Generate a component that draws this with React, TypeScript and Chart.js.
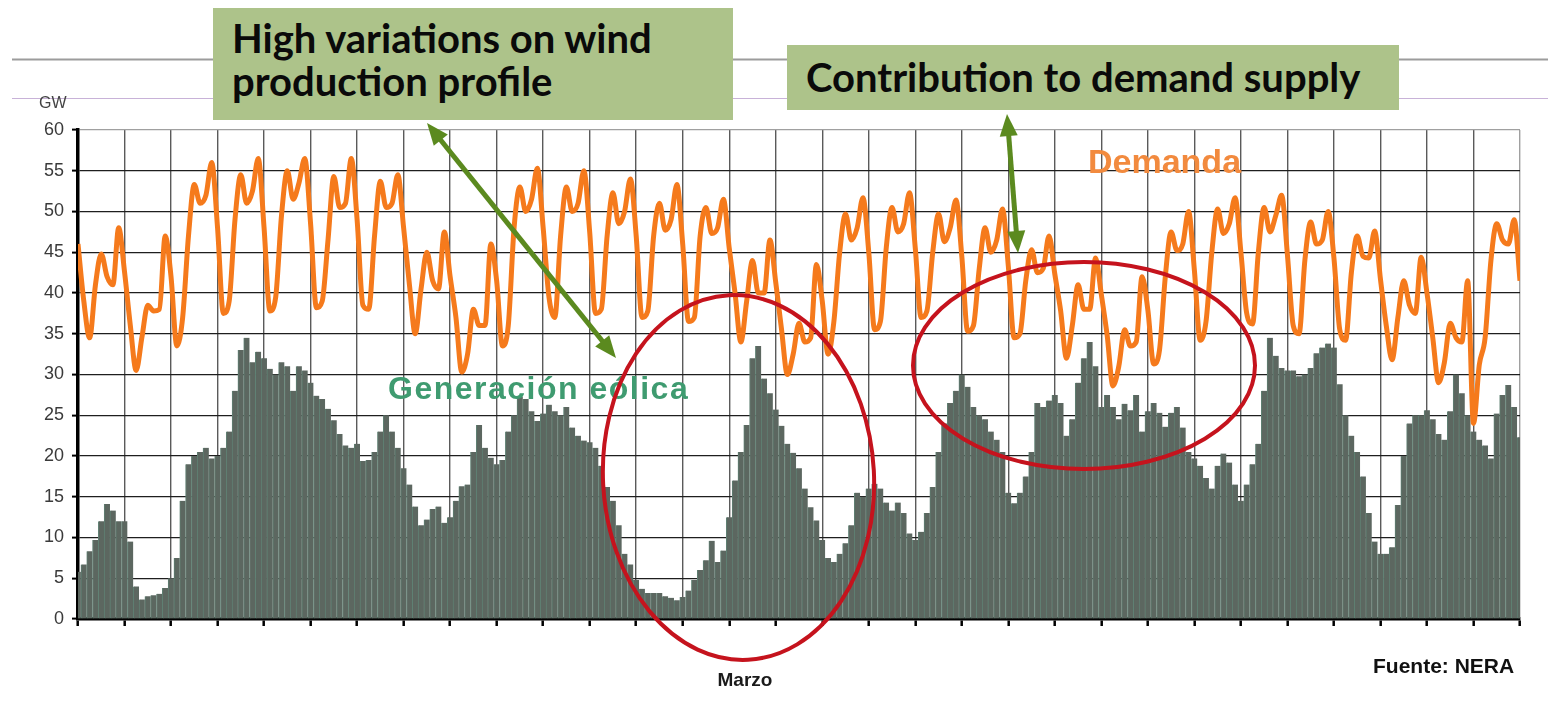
import React, { useEffect, useRef } from "react";
import { Chart, registerables } from "chart.js";

Chart.register(...registerables);

// ---- data (sampled every 3 hours through March, 31 days) ----
const STEP_HOURS = 3;
const DAYS = 31;

// Demand (GW), 8 samples per day + closing value
const demandGW = [
  46, 39, 34.5, 41, 44.8, 42, 41, 48,
  42.6, 36, 30.5, 34.6, 38.5, 37.8, 38, 47,
  42, 33.5, 37, 47, 53.3, 51, 52, 56,
  48, 37.5, 39, 49, 54.5, 51, 52.5, 56.5,
  48, 37.8, 39.5, 49.5, 55, 51.5, 53.5, 56.5,
  48.5, 38.2, 39, 46.5, 54.3, 50.5, 51, 56.5,
  49, 38.5, 38, 47, 53.7, 50.5, 51, 54.5,
  48, 41, 35, 40.5, 45, 41.5, 40.5, 47.5,
  42, 37, 30.3, 32.5, 38, 36, 36, 46,
  41.5, 33.5, 36, 48, 53, 50, 51.5, 55.3,
  48, 39.5, 37, 47, 53, 50, 51, 55,
  47.5, 37.5, 38, 47, 52.3, 48.5, 50, 54,
  47, 37, 37.8, 47, 51, 47.7, 49, 53.3,
  46, 36.5, 37, 47, 50.5, 47.3, 48, 51.5,
  45.5, 40, 34, 39, 44, 40, 40, 46.5,
  41.3, 35.5, 30, 32.5, 36.3, 34, 34.5, 43.5,
  39, 32.5, 36.5, 45, 49.7, 46.5, 48, 51.7,
  45, 35.5, 36.5, 45.5, 50.5, 47.5, 48.5, 52.3,
  45.5, 37, 37.8, 45, 49.7, 46.3, 48, 51.4,
  44.5, 35.3, 36, 43, 48, 45, 46.5, 50.3,
  43.3, 34.5, 35, 41.5, 45.3, 42.5, 43, 47,
  42.3, 37.8, 32, 36, 41, 38, 38, 44.3,
  39.8, 34.8, 28.6, 31, 35.5, 33.5, 34, 42,
  37.9, 31.3, 33, 42, 47.5, 45.2, 46, 50,
  42.8, 34.2, 36.5, 45, 50.3, 47.3, 48.5, 51.7,
  45, 37.5, 36.2, 45, 50.5, 47.5, 49.5, 52,
  44.7, 36, 35, 44, 48.7, 46, 46.5, 50,
  44.3, 35.5, 34.2, 42.5, 47, 44.5, 44.3, 47.6,
  41.7, 36, 31.8, 37, 41.5, 38.5, 37.5, 44.4,
  40, 34.5, 29, 31.5, 36.3, 34.5, 34, 41.5,
  24, 31.2, 34.5, 44, 48.5, 46.5, 46, 49,
  41.5,
];

// Wind generation (GW), same sampling
const windGW = [
  5.8, 6.7, 8.3, 9.7, 12, 14.1, 13.3, 12,
  12, 9.5, 4, 2.4, 2.8, 2.9, 3.1, 3.8,
  5, 7.5, 14.5, 19, 20, 20.5, 21, 19.7,
  20, 21, 23, 28, 33, 34.5, 31.5, 32.8,
  32, 30.7, 30, 31.5, 31, 28, 31, 30.5,
  29, 27.4, 27, 25.8, 24.4, 22.7, 21.3, 21,
  21.5, 19.4, 19.5, 20.5, 23, 25, 23, 21,
  18.5, 16.5, 13.8, 11.5, 12.2, 13.5, 13.8, 11.8,
  12.5, 14.5, 16.3, 16.5, 20.5, 23.8, 21, 19.8,
  19, 19.5, 23, 25, 27.3, 27, 25.5, 24.3,
  25.2, 26.3, 25.5, 25, 26, 23.5, 22.5, 21.9,
  21.7, 21, 18.8, 16.2, 14.5, 11.5, 8, 6.7,
  4.8, 3.7, 3.2, 3.2, 3.2, 2.8, 2.6, 2.3,
  2.7, 3.5, 4.8, 6, 7.2, 9.6, 7, 8.4,
  12.5, 17, 20.5, 23.8, 32, 33.5, 29.5, 27.7,
  25.7, 23.7, 21.5, 20.4, 18.5, 16, 13.7, 12.1,
  9.7, 7.5, 7, 8, 9.3, 11.5, 15.5, 15,
  16, 16.6, 16, 14.3, 13.3, 14.3, 13, 10.5,
  9.7, 10.7, 13, 16.2, 20.5, 24, 26.5, 28,
  30, 28.5, 26, 25, 24.5, 23, 22, 20.5,
  15.5, 14.2, 15.5, 17.5, 20.5, 26.5, 26, 26.8,
  27.5, 26.5, 22.5, 24.5, 29, 32, 34, 31,
  26, 27.5, 26, 24.5, 26.4, 25.6, 27.5, 23,
  25.5, 26.5, 25.3, 23.6, 25.3, 26, 23.5, 20.5,
  19.7, 18.8, 17.3, 16, 18.8, 20.3, 19.2, 16.5,
  14.5, 16.5, 19, 21.5, 28, 34.5, 32.3, 30.8,
  30.5, 30.5, 29.8, 30, 30.8, 32.6, 33.3, 33.8,
  33.3, 28.8, 25, 22.5, 20.5, 17.5, 13, 9.5,
  8, 8, 8.8, 14, 20, 24, 25, 25,
  25.6, 24.5, 22.7, 22, 25.5, 30, 27.7, 25,
  23, 22, 21.3, 19.7, 25.2, 27.5, 28.7, 26,
  22.3,
];

const yMin = 0;
const yMax = 60;
const yStep = 5;

const yUnit = "GW";
const xTitle = "Marzo";
const demandLabel = "Demanda";
const windLabel = "Generación eólica";
const sourceNote = "Fuente: NERA";
const noteVariation = ["High variations on wind", "production profile"];
const noteContribution = "Contribution to demand supply";

function arrowPoly(tx: number, ty: number, fx: number, fy: number, len: number, half: number) {
  const dx = tx - fx;
  const dy = ty - fy;
  const d = Math.hypot(dx, dy);
  const ux = dx / d;
  const uy = dy / d;
  const bx = tx - ux * len;
  const by = ty - uy * len;
  return `${tx},${ty} ${bx - uy * half},${by + ux * half} ${bx + uy * half},${by - ux * half}`;
}

function DoubleArrow({ x1, y1, x2, y2, color }: { x1: number; y1: number; x2: number; y2: number; color: string }) {
  const d = Math.hypot(x2 - x1, y2 - y1);
  const ux = (x2 - x1) / d;
  const uy = (y2 - y1) / d;
  const len = 22;
  return (
    <g>
      <line
        x1={x1 + ux * len * 0.8}
        y1={y1 + uy * len * 0.8}
        x2={x2 - ux * len * 0.8}
        y2={y2 - uy * len * 0.8}
        stroke={color}
        strokeWidth={5}
      />
      <polygon points={arrowPoly(x1, y1, x2, y2, len, 9)} fill={color} />
      <polygon points={arrowPoly(x2, y2, x1, y1, len, 9)} fill={color} />
    </g>
  );
}

export default function App() {
  const canvasRef = useRef<HTMLCanvasElement>(null);

  useEffect(() => {
    const canvas = canvasRef.current;
    if (!canvas) return;
    const chart = new Chart(canvas, {
      type: "bar",
      data: {
        datasets: [
          {
            type: "line",
            label: demandLabel,
            data: demandGW.map((v, i) => ({ x: i * STEP_HOURS, y: v })),
            borderColor: "#f57a1c",
            borderWidth: 5,
            pointRadius: 0,
            cubicInterpolationMode: "monotone",
            order: 0,
          } as any,
          {
            type: "bar",
            label: windLabel,
            data: windGW.map((v, i) => ({ x: i * STEP_HOURS, y: v })),
            backgroundColor: "#5c6760",
            borderColor: "#5f8073",
            borderWidth: { left: 1, top: 0, right: 0, bottom: 0 },
            borderSkipped: false,
            barPercentage: 1,
            categoryPercentage: 1,
            order: 1,
          } as any,
        ],
      },
      options: {
        animation: false,
        responsive: false,
        maintainAspectRatio: false,
        layout: { padding: { left: 0, right: 28, top: 130, bottom: 0 } },
        plugins: {
          legend: { display: false },
          tooltip: { enabled: false },
        },
        scales: {
          x: {
            type: "linear",
            min: 0,
            max: DAYS * 24,
            offset: false,
            ticks: { display: false, stepSize: 24, autoSkip: false, maxTicksLimit: 100 },
            grid: {
              color: (c: any) => (c.tick && c.tick.value === DAYS * 24 ? "#a0a0a0" : "#5a5a5a"),
              lineWidth: 1.4,
              tickLength: 7,
              tickColor: "#000",
              tickWidth: 2.5,
              offset: false,
            },
            border: { color: "#000", width: 3.5 },
            afterFit: (s: any) => {
              s.height = 89;
            },
          } as any,
          y: {
            min: yMin,
            max: yMax,
            ticks: {
              stepSize: yStep,
              font: { family: "'Liberation Sans', Arial, sans-serif", size: 18 },
              color: "#3a3a3a",
              padding: 8,
            },
            grid: {
              color: (c: any) => (c.tick && c.tick.value === yMax ? "#a0a0a0" : "#1e1e1e"),
              lineWidth: 1.2,
              tickLength: 6,
              tickColor: "#000",
              tickWidth: 2,
            },
            border: { color: "#000", width: 3.5 },
            afterFit: (s: any) => {
              s.width = 78;
            },
          } as any,
        },
      },
    });
    return () => chart.destroy();
  }, []);

  const boxFont = "Lato, 'Open Sans', sans-serif";
  const arial = "'Liberation Sans', Arial, sans-serif";

  return (
    <div
      style={{
        position: "absolute",
        left: 0,
        top: 0,
        width: 1548,
        height: 708,
        background: "#fff",
        overflow: "hidden",
      }}
    >
      <svg width={1548} height={708} style={{ position: "absolute", left: 0, top: 0 }}>
        <line x1={12} y1={59.5} x2={1548} y2={59.5} stroke="#9c9c9c" strokeWidth={2} />
        <line x1={12} y1={98.5} x2={1548} y2={98.5} stroke="#c8b2d8" strokeWidth={1} />
      </svg>
      <canvas
        ref={canvasRef}
        width={1548}
        height={708}
        style={{ position: "absolute", left: 0, top: 0, width: 1548, height: 708 }}
      />
      <div
        style={{
          position: "absolute",
          left: 39,
          top: 95,
          fontFamily: arial,
          fontSize: 16,
          lineHeight: "16px",
          color: "#444",
        }}
      >
        {yUnit}
      </div>
      <div
        style={{
          position: "absolute",
          left: 213,
          top: 8,
          width: 520,
          height: 112,
          background: "#adc38a",
          boxSizing: "border-box",
          paddingLeft: 19,
          paddingTop: 9,
          fontFamily: boxFont,
          fontWeight: 700,
          fontSize: 40,
          lineHeight: "43px",
          color: "#0a0a0a",
          whiteSpace: "nowrap",
        }}
      >
        <div>{noteVariation[0]}</div>
        <div>{noteVariation[1]}</div>
      </div>
      <div
        style={{
          position: "absolute",
          left: 787,
          top: 45,
          width: 612,
          height: 65,
          background: "#adc38a",
          boxSizing: "border-box",
          paddingLeft: 19,
          fontFamily: boxFont,
          fontWeight: 700,
          fontSize: 40,
          lineHeight: "65px",
          color: "#0a0a0a",
          whiteSpace: "nowrap",
        }}
      >
        {noteContribution}
      </div>
      <div
        style={{
          position: "absolute",
          left: 1088,
          top: 144,
          fontFamily: arial,
          fontWeight: 700,
          fontSize: 34,
          lineHeight: "34px",
          color: "#f28a3e",
          whiteSpace: "nowrap",
        }}
      >
        {demandLabel}
      </div>
      <div
        style={{
          position: "absolute",
          left: 388,
          top: 372,
          fontFamily: arial,
          fontWeight: 700,
          fontSize: 32,
          lineHeight: "32px",
          letterSpacing: 1.5,
          color: "#3f9b70",
          whiteSpace: "nowrap",
        }}
      >
        {windLabel}
      </div>
      <div
        style={{
          position: "absolute",
          left: 695,
          width: 100,
          top: 670,
          textAlign: "center",
          fontFamily: arial,
          fontWeight: 700,
          fontSize: 19,
          lineHeight: "19px",
          color: "#1a1a1a",
        }}
      >
        {xTitle}
      </div>
      <div
        style={{
          position: "absolute",
          left: 1373,
          top: 655,
          fontFamily: arial,
          fontWeight: 700,
          fontSize: 21,
          lineHeight: "21px",
          color: "#111",
          whiteSpace: "nowrap",
        }}
      >
        {sourceNote}
      </div>
      <svg
        width={1548}
        height={708}
        style={{ position: "absolute", left: 0, top: 0, pointerEvents: "none" }}
      >
        <ellipse
          cx={738.5}
          cy={477.5}
          rx={135.5}
          ry={182.5}
          transform="rotate(-3 738.5 477.5)"
          fill="none"
          stroke="#c5131d"
          strokeWidth={4}
        />
        <ellipse cx={1084} cy={365.5} rx={171} ry={103.5} fill="none" stroke="#c5131d" strokeWidth={4} />
        <DoubleArrow x1={427} y1={123} x2={616} y2={358} color="#5b8a1f" />
        <DoubleArrow x1={1007} y1={114} x2={1018} y2={253} color="#5b8a1f" />
      </svg>
    </div>
  );
}
